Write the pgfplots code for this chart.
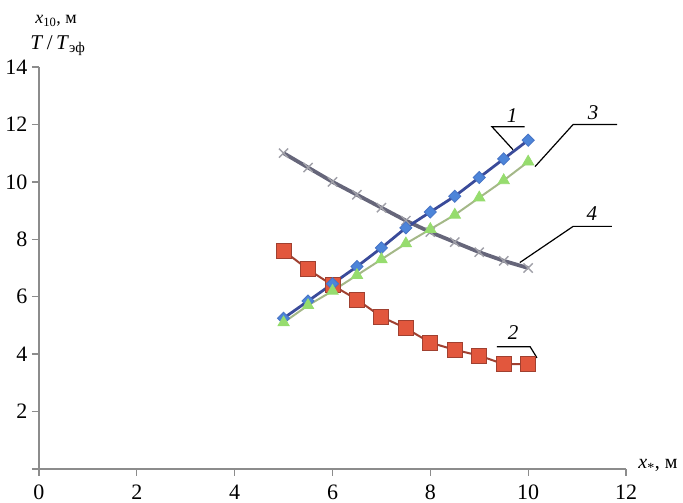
\documentclass[border=0pt]{standalone}
\usepackage{fontspec}
\setmainfont{Liberation Serif}
\usepackage{pgfplots}
\pgfplotsset{compat=1.18}

\definecolor{axisgray}{HTML}{8C8C8C}
\definecolor{blueline}{HTML}{3A4B9A}
\definecolor{bluefill}{HTML}{4D85D9}
\definecolor{greenline}{HTML}{A4B888}
\definecolor{greenfill}{HTML}{96DC6E}
\definecolor{redline}{HTML}{A04030}
\definecolor{redfill}{HTML}{E2573D}
\definecolor{grayline}{HTML}{66667A}
\definecolor{graymark}{HTML}{A0A0A8}

\begin{document}
\begin{tikzpicture}
\begin{axis}[
  scale only axis, width=587pt, height=402pt,
  xmin=0, xmax=12, ymin=0, ymax=14,
  axis x line=bottom, axis y line=left,
  axis line style={-, draw=axisgray, line width=1.6pt},
  tick align=outside, major tick length=7pt,
  tick style={axisgray, line width=1.3pt},
  xtick={0,2,...,12}, ytick={0,2,...,14},
  yticklabels={,2,4,6,8,10,12,14},
  tick label style={font=\fontsize{22}{24}\selectfont},
  xticklabel style={yshift=-5pt},
  yticklabel style={xshift=-1pt},
  /pgf/number format/assume math mode=true,
  clip=false,
]
\coordinate (bl) at (axis cs:0,0);

% 4
\addplot[grayline, line width=3.8pt, mark=x, mark size=6.5pt,
  mark options={graymark, line width=1.4pt}] coordinates {
  (5,11.0) (5.5,10.5) (6,10.0) (6.5,9.55) (7,9.1) (7.5,8.65)
  (8,8.25) (8.5,7.9) (9,7.55) (9.5,7.25) (10,7.0)};
% 2
\addplot[redline, line width=2pt, mark=square*, mark size=7.5pt,
  mark options={fill=redfill, draw=redline, line width=1pt}] coordinates {
  (5,7.6) (5.5,6.95) (6,6.4) (6.5,5.9) (7,5.3) (7.5,4.9)
  (8,4.4) (8.5,4.15) (9,3.95) (9.5,3.65) (10,3.65)};
% 1
\addplot[blueline, line width=2.8pt, mark=square*, mark size=4.3pt,
  mark options={rotate=45, fill=bluefill, draw=bluefill!70!blueline, line width=0.8pt}] coordinates {
  (5,5.25) (5.5,5.85) (6,6.45) (6.5,7.05) (7,7.7) (7.5,8.4)
  (8,8.95) (8.5,9.5) (9,10.15) (9.5,10.8) (10,11.45)};
% 3
\addplot[greenline, line width=2pt, mark=triangle*, mark size=6.5pt,
  mark options={fill=greenfill, draw=greenfill, line width=0.8pt}] coordinates {
  (5,5.1) (5.5,5.7) (6,6.2) (6.5,6.75) (7,7.3) (7.5,7.85)
  (8,8.35) (8.5,8.85) (9,9.45) (9.5,10.05) (10,10.7)};

% curve labels with leaders
\draw[black, line width=1.2pt] (axis cs:9.69,11.12) -- (axis cs:9.26,11.92) -- (axis cs:9.93,11.92);
\node[font=\fontsize{21}{24}\selectfont\itshape] at (axis cs:9.67,12.3) {1};
\draw[black, line width=1.2pt] (axis cs:10.14,10.53) -- (axis cs:10.92,12.0) -- (axis cs:11.82,12.0);
\node[font=\fontsize{21}{24}\selectfont\itshape] at (axis cs:11.33,12.42) {3};
\draw[black, line width=1.2pt] (axis cs:9.83,7.19) -- (axis cs:10.92,8.45) -- (axis cs:11.71,8.45);
\node[font=\fontsize{21}{24}\selectfont\itshape] at (axis cs:11.3,8.9) {4};
\draw[black, line width=1.2pt] (axis cs:9.36,4.26) -- (axis cs:10.04,4.26) -- (axis cs:10.18,3.87);
\node[font=\fontsize{21}{24}\selectfont\itshape] at (axis cs:9.69,4.74) {2};

% axis titles
\node[font=\fontsize{18}{20}\selectfont, anchor=base west, inner sep=0pt]
  at (axis cs:-0.08,15.5) {\textit{x}\textsubscript{10}, м};
\node[font=\fontsize{21}{24}\selectfont, anchor=base west, inner sep=0pt]
  at (axis cs:-0.18,14.6) {\textit{T}\,/\,\textit{T}\textsubscript{эф}};
\node[font=\fontsize{20}{22}\selectfont, anchor=base west, inner sep=0pt]
  at (axis cs:12.25,0.0) {\textit{x}\textsubscript{*}, м};
\end{axis}
\pgfresetboundingbox
\path[use as bounding box] (bl) ++(-39pt,-34pt) rectangle ++(683pt,503pt);
\end{tikzpicture}
\end{document}
